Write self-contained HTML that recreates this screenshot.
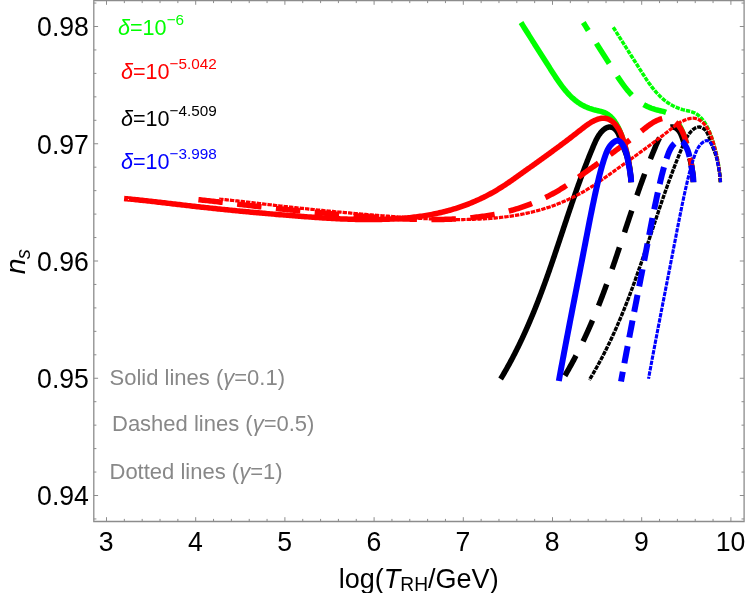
<!DOCTYPE html>
<html><head><meta charset="utf-8"><title>n_s vs log(T_RH/GeV)</title>
<style>
html,body{margin:0;padding:0;background:#fff;}
body{width:747px;height:593px;overflow:hidden;font-family:"Liberation Sans", sans-serif;}
svg{display:block;will-change:transform;}
text{font-family:"Liberation Sans", sans-serif;}
</style></head><body>
<svg width="747" height="593" viewBox="0 0 747 593">
<g fill="none" stroke-linecap="butt" stroke-linejoin="round">
<path d="M631.10 182.20L631.02 180.69L630.92 179.18L630.81 177.68L630.69 176.17L630.54 174.67L630.39 173.18L630.21 171.69L630.03 170.20L629.83 168.71L629.61 167.22L629.38 165.74L629.14 164.26L628.88 162.79L628.61 161.31L628.33 159.84L628.03 158.37L627.72 156.91L627.39 155.44L627.06 153.98L626.71 152.52L626.35 151.07L625.97 149.61L625.59 148.16L625.19 146.71L624.78 145.27L624.36 143.82L623.93 142.38L623.49 140.94L623.03 139.50L622.56 138.07L622.07 136.64L621.56 135.22L621.02 133.81L620.46 132.41L619.88 131.02L619.26 129.64L618.61 128.28L617.93 126.93L617.22 125.59L616.46 124.27L615.66 122.98L614.83 121.71L613.94 120.48L613.02 119.29L612.04 118.16L611.02 117.08L609.94 116.07L608.81 115.14L607.63 114.29L606.39 113.53L605.10 112.87L603.74 112.30L602.34 111.83L600.90 111.41L599.43 111.05L597.94 110.71L596.44 110.37L594.94 110.02L593.46 109.64L592.00 109.21L590.55 108.74L589.12 108.23L587.72 107.68L586.33 107.09L584.97 106.45L583.63 105.78L582.32 105.08L581.03 104.33L579.77 103.55L578.54 102.73L577.33 101.88L576.15 101.00L574.99 100.08L573.86 99.13L572.74 98.16L571.65 97.16L570.58 96.13L569.53 95.07L568.50 93.99L567.48 92.89L566.49 91.77L565.51 90.63L564.55 89.47L563.60 88.29L562.67 87.10L561.75 85.89L560.84 84.67L559.95 83.43L559.06 82.18L558.19 80.93L557.32 79.66L556.47 78.39L555.62 77.11L554.78 75.83L553.95 74.55L553.12 73.26L552.30 71.97L551.48 70.68L550.66 69.40L549.85 68.11L549.04 66.83L548.23 65.56L547.42 64.29L546.61 63.02L545.81 61.75L545.00 60.48L544.20 59.22L543.40 57.96L542.60 56.70L541.80 55.45L541.00 54.19L540.20 52.94L539.40 51.69L538.60 50.43L537.81 49.18L537.01 47.93L536.21 46.68L535.42 45.42L534.62 44.17L533.83 42.91L533.03 41.66L532.23 40.40L531.44 39.14L530.64 37.88L529.84 36.62L529.04 35.35L528.24 34.08L527.44 32.81L526.64 31.54L525.84 30.26L525.04 28.97L524.23 27.69L523.43 26.40L522.62 25.10L521.81 23.80L521.00 22.50" stroke="#00ff00" stroke-width="5.5"/>
<path d="M693.40 182.20L693.32 180.69L693.22 179.18L693.11 177.68L692.99 176.17L692.84 174.67L692.69 173.18L692.51 171.69L692.33 170.20L692.13 168.71L691.91 167.22L691.68 165.74L691.44 164.26L691.18 162.79L690.91 161.31L690.63 159.84L690.33 158.37L690.02 156.91L689.69 155.44L689.36 153.98L689.01 152.52L688.65 151.07L688.27 149.61L687.89 148.16L687.49 146.71L687.08 145.27L686.66 143.82L686.23 142.38L685.79 140.94L685.33 139.50L684.86 138.07L684.37 136.64L683.86 135.22L683.32 133.81L682.76 132.41L682.18 131.02L681.56 129.64L680.91 128.28L680.23 126.93L679.52 125.59L678.76 124.27L677.96 122.98L677.13 121.71L676.24 120.48L675.32 119.29L674.34 118.16L673.32 117.08L672.24 116.07L671.11 115.14L669.93 114.29L668.69 113.53L667.40 112.87L666.04 112.30L664.64 111.83L663.20 111.41L661.73 111.05L660.24 110.71L658.74 110.37L657.24 110.02L655.76 109.64L654.30 109.21L652.85 108.74L651.42 108.23L650.02 107.68L648.63 107.09L647.27 106.45L645.93 105.78L644.62 105.08L643.33 104.33L642.07 103.55L640.84 102.73L639.63 101.88L638.45 101.00L637.29 100.08L636.16 99.13L635.04 98.16L633.95 97.16L632.88 96.13L631.83 95.07L630.80 93.99L629.78 92.89L628.79 91.77L627.81 90.63L626.85 89.47L625.90 88.29L624.97 87.10L624.05 85.89L623.14 84.67L622.25 83.43L621.36 82.18L620.49 80.93L619.62 79.66L618.77 78.39L617.92 77.11L617.08 75.83L616.25 74.55L615.42 73.26L614.60 71.97L613.78 70.68L612.96 69.40L612.15 68.11L611.34 66.83L610.53 65.56L609.72 64.29L608.91 63.02L608.11 61.75L607.30 60.48L606.50 59.22L605.70 57.96L604.90 56.70L604.10 55.45L603.30 54.19L602.50 52.94L601.70 51.69L600.90 50.43L600.11 49.18L599.31 47.93L598.51 46.68L597.72 45.42L596.92 44.17L596.13 42.91L595.33 41.66L594.53 40.40L593.74 39.14L592.94 37.88L592.14 36.62L591.34 35.35L590.54 34.08L589.74 32.81L588.94 31.54L588.14 30.26L587.34 28.97L586.53 27.69L585.73 26.40L584.92 25.10L584.11 23.80L583.30 22.50" stroke="#00ff00" stroke-width="5.5" stroke-dasharray="23.8 15.2" stroke-dashoffset="0.0"/>
<path d="M720.40 182.20L720.32 180.69L720.22 179.18L720.11 177.68L719.99 176.17L719.84 174.67L719.69 173.18L719.51 171.69L719.33 170.20L719.13 168.71L718.91 167.22L718.68 165.74L718.44 164.26L718.18 162.79L717.91 161.31L717.63 159.84L717.33 158.37L717.02 156.91L716.69 155.44L716.36 153.98L716.01 152.52L715.65 151.07L715.27 149.61L714.89 148.16L714.49 146.71L714.08 145.27L713.66 143.82L713.23 142.38L712.79 140.94L712.33 139.50L711.86 138.07L711.37 136.64L710.86 135.22L710.32 133.81L709.76 132.41L709.18 131.02L708.56 129.64L707.91 128.28L707.23 126.93L706.52 125.59L705.76 124.27L704.96 122.98L704.13 121.71L703.24 120.48L702.32 119.29L701.34 118.16L700.32 117.08L699.24 116.07L698.11 115.14L696.93 114.29L695.69 113.53L694.40 112.87L693.04 112.30L691.64 111.83L690.20 111.41L688.73 111.05L687.24 110.71L685.74 110.37L684.24 110.02L682.76 109.64L681.30 109.21L679.85 108.74L678.42 108.23L677.02 107.68L675.63 107.09L674.27 106.45L672.93 105.78L671.62 105.08L670.33 104.33L669.07 103.55L667.84 102.73L666.63 101.88L665.45 101.00L664.29 100.08L663.16 99.13L662.04 98.16L660.95 97.16L659.88 96.13L658.83 95.07L657.80 93.99L656.78 92.89L655.79 91.77L654.81 90.63L653.85 89.47L652.90 88.29L651.97 87.10L651.05 85.89L650.14 84.67L649.25 83.43L648.36 82.18L647.49 80.93L646.62 79.66L645.77 78.39L644.92 77.11L644.08 75.83L643.25 74.55L642.42 73.26L641.60 71.97L640.78 70.68L639.96 69.40L639.15 68.11L638.34 66.83L637.53 65.56L636.72 64.29L635.91 63.02L635.11 61.75L634.30 60.48L633.50 59.22L632.70 57.96L631.90 56.70L631.10 55.45L630.30 54.19L629.50 52.94L628.70 51.69L627.90 50.43L627.11 49.18L626.31 47.93L625.51 46.68L624.72 45.42L623.92 44.17L623.13 42.91L622.33 41.66L621.53 40.40L620.74 39.14L619.94 37.88L619.14 36.62L618.34 35.35L617.54 34.08L616.74 32.81L615.94 31.54L615.14 30.26L614.34 28.97L613.53 27.69L612.85 26.60" stroke="#00ff00" stroke-width="3.5" stroke-dasharray="4.4 1.0"/>
<path d="M631.10 182.20L630.97 180.74L630.84 179.26L630.71 177.77L630.56 176.27L630.40 174.77L630.23 173.26L630.05 171.75L629.85 170.24L629.63 168.72L629.39 167.22L629.13 165.71L628.85 164.22L628.55 162.73L628.22 161.25L627.86 159.79L627.48 158.34L627.06 156.91L626.61 155.50L626.13 154.10L625.63 152.72L625.10 151.35L624.57 149.97L624.01 148.60L623.46 147.22L622.90 145.84L622.35 144.43L621.81 143.01L621.28 141.56L620.78 140.09L620.27 138.60L619.74 137.12L619.18 135.65L618.57 134.23L617.88 132.87L617.09 131.58L616.20 130.39L615.17 129.31L614.03 128.40L612.77 127.70L611.43 127.24L610.04 127.05L608.65 127.12L607.28 127.47L605.95 128.06L604.67 128.87L603.46 129.83L602.30 130.92L601.22 132.10L600.22 133.32L599.30 134.57L598.45 135.84L597.66 137.15L596.92 138.47L596.23 139.81L595.57 141.17L594.94 142.54L594.34 143.91L593.75 145.29L593.16 146.68L592.58 148.06L592.00 149.45L591.42 150.84L590.85 152.23L590.28 153.62L589.72 155.01L589.15 156.41L588.60 157.80L588.04 159.20L587.49 160.60L586.94 162.00L586.39 163.40L585.85 164.80L585.31 166.20L584.77 167.60L584.23 169.01L583.70 170.41L583.17 171.82L582.64 173.23L582.12 174.63L581.59 176.04L581.07 177.45L580.55 178.87L580.04 180.28L579.52 181.69L579.01 183.10L578.50 184.52L578.00 185.94L577.49 187.35L576.99 188.77L576.48 190.19L575.98 191.61L575.49 193.02L574.99 194.44L574.49 195.86L574.00 197.29L573.51 198.71L573.02 200.13L572.53 201.55L572.04 202.98L571.55 204.40L571.07 205.82L570.58 207.25L570.10 208.68L569.61 210.10L569.13 211.53L568.65 212.95L568.17 214.38L567.69 215.81L567.21 217.24L566.74 218.66L566.26 220.09L565.78 221.52L565.30 222.95L564.83 224.38L564.35 225.80L563.88 227.23L563.40 228.66L562.93 230.09L562.45 231.52L561.98 232.95L561.50 234.38L561.03 235.81L560.55 237.24L560.08 238.67L559.60 240.10L559.12 241.53L558.65 242.95L558.17 244.38L557.69 245.81L557.21 247.24L556.73 248.67L556.26 250.10L555.77 251.52L555.29 252.95L554.81 254.38L554.33 255.81L553.84 257.23L553.36 258.66L552.87 260.08L552.39 261.51L551.90 262.93L551.41 264.36L550.92 265.78L550.42 267.21L549.93 268.63L549.44 270.05L548.94 271.47L548.44 272.89L547.94 274.31L547.44 275.73L546.93 277.15L546.43 278.57L545.92 279.99L545.41 281.41L544.90 282.82L544.38 284.24L543.87 285.65L543.35 287.07L542.83 288.48L542.30 289.89L541.78 291.30L541.25 292.71L540.72 294.12L540.18 295.53L539.65 296.94L539.11 298.35L538.57 299.75L538.02 301.16L537.48 302.56L536.93 303.96L536.37 305.36L535.82 306.76L535.26 308.16L534.70 309.56L534.13 310.95L533.56 312.35L532.99 313.74L532.42 315.13L531.84 316.52L531.26 317.91L530.67 319.30L530.08 320.69L529.49 322.07L528.90 323.45L528.30 324.83L527.70 326.21L527.09 327.59L526.48 328.97L525.87 330.34L525.25 331.72L524.63 333.09L524.00 334.46L523.38 335.82L522.74 337.19L522.11 338.55L521.47 339.92L520.82 341.27L520.17 342.63L519.52 343.99L518.86 345.34L518.20 346.69L517.54 348.04L516.87 349.39L516.19 350.74L515.52 352.08L514.83 353.42L514.15 354.76L513.45 356.09L512.76 357.43L512.06 358.76L511.35 360.09L510.64 361.41L509.93 362.74L509.21 364.06L508.48 365.38L507.75 366.70L507.02 368.01L506.28 369.32L505.54 370.63L504.79 371.94L504.03 373.24L503.27 374.54L502.51 375.84L501.74 377.13L500.97 378.42L500.62 379.00" stroke="#000000" stroke-width="5.5"/>
<path d="M693.40 182.20L693.27 180.74L693.14 179.26L693.01 177.77L692.86 176.27L692.70 174.77L692.53 173.26L692.35 171.75L692.15 170.24L691.93 168.72L691.69 167.22L691.43 165.71L691.15 164.22L690.85 162.73L690.52 161.25L690.16 159.79L689.78 158.34L689.36 156.91L688.91 155.50L688.43 154.10L687.93 152.72L687.40 151.35L686.87 149.97L686.31 148.60L685.76 147.22L685.20 145.84L684.65 144.43L684.11 143.01L683.58 141.56L683.08 140.09L682.57 138.60L682.04 137.12L681.48 135.65L680.87 134.23L680.18 132.87L679.39 131.58L678.50 130.39L677.47 129.31L676.33 128.40L675.07 127.70L673.73 127.24L672.34 127.05L670.95 127.12L669.58 127.47L668.25 128.06L666.97 128.87L665.76 129.83L664.60 130.92L663.52 132.10L662.52 133.32L661.60 134.57L660.75 135.84L659.96 137.15L659.22 138.47L658.53 139.81L657.87 141.17L657.24 142.54L656.64 143.91L656.05 145.29L655.46 146.68L654.88 148.06L654.30 149.45L653.72 150.84L653.15 152.23L652.58 153.62L652.02 155.01L651.45 156.41L650.90 157.80L650.34 159.20L649.79 160.60L649.24 162.00L648.69 163.40L648.15 164.80L647.61 166.20L647.07 167.60L646.53 169.01L646.00 170.41L645.47 171.82L644.94 173.23L644.42 174.63L643.89 176.04L643.37 177.45L642.85 178.87L642.34 180.28L641.82 181.69L641.31 183.10L640.80 184.52L640.30 185.94L639.79 187.35L639.29 188.77L638.78 190.19L638.28 191.61L637.79 193.02L637.29 194.44L636.79 195.86L636.30 197.29L635.81 198.71L635.32 200.13L634.83 201.55L634.34 202.98L633.85 204.40L633.37 205.82L632.88 207.25L632.40 208.68L631.91 210.10L631.43 211.53L630.95 212.95L630.47 214.38L629.99 215.81L629.51 217.24L629.04 218.66L628.56 220.09L628.08 221.52L627.60 222.95L627.13 224.38L626.65 225.80L626.18 227.23L625.70 228.66L625.23 230.09L624.75 231.52L624.28 232.95L623.80 234.38L623.33 235.81L622.85 237.24L622.38 238.67L621.90 240.10L621.42 241.53L620.95 242.95L620.47 244.38L619.99 245.81L619.51 247.24L619.03 248.67L618.56 250.10L618.07 251.52L617.59 252.95L617.11 254.38L616.63 255.81L616.14 257.23L615.66 258.66L615.17 260.08L614.69 261.51L614.20 262.93L613.71 264.36L613.22 265.78L612.72 267.21L612.23 268.63L611.74 270.05L611.24 271.47L610.74 272.89L610.24 274.31L609.74 275.73L609.23 277.15L608.73 278.57L608.22 279.99L607.71 281.41L607.20 282.82L606.68 284.24L606.17 285.65L605.65 287.07L605.13 288.48L604.60 289.89L604.08 291.30L603.55 292.71L603.02 294.12L602.48 295.53L601.95 296.94L601.41 298.35L600.87 299.75L600.32 301.16L599.78 302.56L599.23 303.96L598.67 305.36L598.12 306.76L597.56 308.16L597.00 309.56L596.43 310.95L595.86 312.35L595.29 313.74L594.72 315.13L594.14 316.52L593.56 317.91L592.97 319.30L592.38 320.69L591.79 322.07L591.20 323.45L590.60 324.83L590.00 326.21L589.39 327.59L588.78 328.97L588.17 330.34L587.55 331.72L586.93 333.09L586.30 334.46L585.68 335.82L585.04 337.19L584.41 338.55L583.77 339.92L583.12 341.27L582.47 342.63L581.82 343.99L581.16 345.34L580.50 346.69L579.84 348.04L579.17 349.39L578.49 350.74L577.82 352.08L577.13 353.42L576.45 354.76L575.75 356.09L575.06 357.43L574.36 358.76L573.65 360.09L572.94 361.41L572.23 362.74L571.51 364.06L570.78 365.38L570.05 366.70L569.32 368.01L568.58 369.32L567.84 370.63L567.09 371.94L566.33 373.24L565.57 374.54L564.81 375.84L564.04 377.13L563.82 377.50" stroke="#000000" stroke-width="5.5" stroke-dasharray="23.0 15.9" stroke-dashoffset="-1.4"/>
<path d="M720.40 182.20L720.27 180.74L720.14 179.26L720.01 177.77L719.86 176.27L719.70 174.77L719.53 173.26L719.35 171.75L719.15 170.24L718.93 168.72L718.69 167.22L718.43 165.71L718.15 164.22L717.85 162.73L717.52 161.25L717.16 159.79L716.78 158.34L716.36 156.91L715.91 155.50L715.43 154.10L714.93 152.72L714.40 151.35L713.87 149.97L713.31 148.60L712.76 147.22L712.20 145.84L711.65 144.43L711.11 143.01L710.58 141.56L710.08 140.09L709.57 138.60L709.04 137.12L708.48 135.65L707.87 134.23L707.18 132.87L706.39 131.58L705.50 130.39L704.47 129.31L703.33 128.40L702.07 127.70L700.73 127.24L699.34 127.05L697.95 127.12L696.58 127.47L695.25 128.06L693.97 128.87L692.76 129.83L691.60 130.92L690.52 132.10L689.52 133.32L688.60 134.57L687.75 135.84L686.96 137.15L686.22 138.47L685.53 139.81L684.87 141.17L684.24 142.54L683.64 143.91L683.05 145.29L682.46 146.68L681.88 148.06L681.30 149.45L680.72 150.84L680.15 152.23L679.58 153.62L679.02 155.01L678.45 156.41L677.90 157.80L677.34 159.20L676.79 160.60L676.24 162.00L675.69 163.40L675.15 164.80L674.61 166.20L674.07 167.60L673.53 169.01L673.00 170.41L672.47 171.82L671.94 173.23L671.42 174.63L670.89 176.04L670.37 177.45L669.85 178.87L669.34 180.28L668.82 181.69L668.31 183.10L667.80 184.52L667.30 185.94L666.79 187.35L666.29 188.77L665.78 190.19L665.28 191.61L664.79 193.02L664.29 194.44L663.79 195.86L663.30 197.29L662.81 198.71L662.32 200.13L661.83 201.55L661.34 202.98L660.85 204.40L660.37 205.82L659.88 207.25L659.40 208.68L658.91 210.10L658.43 211.53L657.95 212.95L657.47 214.38L656.99 215.81L656.51 217.24L656.04 218.66L655.56 220.09L655.08 221.52L654.60 222.95L654.13 224.38L653.65 225.80L653.18 227.23L652.70 228.66L652.23 230.09L651.75 231.52L651.28 232.95L650.80 234.38L650.33 235.81L649.85 237.24L649.38 238.67L648.90 240.10L648.42 241.53L647.95 242.95L647.47 244.38L646.99 245.81L646.51 247.24L646.03 248.67L645.56 250.10L645.07 251.52L644.59 252.95L644.11 254.38L643.63 255.81L643.14 257.23L642.66 258.66L642.17 260.08L641.69 261.51L641.20 262.93L640.71 264.36L640.22 265.78L639.72 267.21L639.23 268.63L638.74 270.05L638.24 271.47L637.74 272.89L637.24 274.31L636.74 275.73L636.23 277.15L635.73 278.57L635.22 279.99L634.71 281.41L634.20 282.82L633.68 284.24L633.17 285.65L632.65 287.07L632.13 288.48L631.60 289.89L631.08 291.30L630.55 292.71L630.02 294.12L629.48 295.53L628.95 296.94L628.41 298.35L627.87 299.75L627.32 301.16L626.78 302.56L626.23 303.96L625.67 305.36L625.12 306.76L624.56 308.16L624.00 309.56L623.43 310.95L622.86 312.35L622.29 313.74L621.72 315.13L621.14 316.52L620.56 317.91L619.97 319.30L619.38 320.69L618.79 322.07L618.20 323.45L617.60 324.83L617.00 326.21L616.39 327.59L615.78 328.97L615.17 330.34L614.55 331.72L613.93 333.09L613.30 334.46L612.68 335.82L612.04 337.19L611.41 338.55L610.77 339.92L610.12 341.27L609.47 342.63L608.82 343.99L608.16 345.34L607.50 346.69L606.84 348.04L606.17 349.39L605.49 350.74L604.82 352.08L604.13 353.42L603.45 354.76L602.75 356.09L602.06 357.43L601.36 358.76L600.65 360.09L599.94 361.41L599.23 362.74L598.51 364.06L597.78 365.38L597.05 366.70L596.32 368.01L595.58 369.32L594.84 370.63L594.09 371.94L593.33 373.24L592.57 374.54L591.81 375.84L591.04 377.13L590.27 378.42L589.49 379.71L589.31 380.00" stroke="#000000" stroke-width="3.4" stroke-dasharray="4.4 1.0"/>
<path d="M631.10 182.20L631.01 180.68L630.90 179.16L630.78 177.65L630.65 176.14L630.51 174.65L630.35 173.15L630.17 171.66L629.99 170.18L629.79 168.69L629.58 167.22L629.35 165.74L629.12 164.27L628.87 162.81L628.60 161.34L628.32 159.88L628.03 158.42L627.73 156.96L627.42 155.51L627.09 154.05L626.74 152.60L626.39 151.15L626.02 149.70L625.64 148.25L625.25 146.80L624.84 145.35L624.42 143.89L623.99 142.44L623.54 140.99L623.08 139.54L622.60 138.09L622.09 136.65L621.55 135.22L620.97 133.81L620.35 132.41L619.69 131.04L618.97 129.69L618.19 128.37L617.35 127.09L616.45 125.84L615.49 124.65L614.46 123.52L613.38 122.47L612.25 121.50L611.07 120.64L609.84 119.88L608.56 119.25L607.25 118.75L605.89 118.41L604.50 118.22L603.08 118.19L601.64 118.32L600.18 118.58L598.73 118.95L597.29 119.42L595.88 119.96L594.50 120.57L593.14 121.23L591.82 121.94L590.52 122.70L589.24 123.51L587.98 124.34L586.74 125.21L585.51 126.10L584.30 127.02L583.09 127.95L581.89 128.89L580.69 129.83L579.50 130.77L578.30 131.71L577.10 132.65L575.91 133.58L574.71 134.51L573.51 135.44L572.31 136.36L571.12 137.28L569.92 138.20L568.72 139.12L567.52 140.03L566.32 140.94L565.11 141.84L563.91 142.75L562.71 143.65L561.51 144.55L560.30 145.44L559.10 146.34L557.90 147.23L556.69 148.12L555.48 149.01L554.28 149.89L553.07 150.78L551.86 151.66L550.66 152.54L549.45 153.42L548.24 154.30L547.03 155.18L545.82 156.06L544.61 156.93L543.40 157.80L542.19 158.68L540.97 159.55L539.76 160.42L538.55 161.29L537.33 162.16L536.12 163.03L534.90 163.90L533.69 164.77L532.47 165.64L531.25 166.51L530.03 167.38L528.82 168.24L527.60 169.11L526.38 169.98L525.16 170.85L523.94 171.72L522.71 172.59L521.49 173.46L520.27 174.33L519.04 175.20L517.82 176.08L516.59 176.95L515.36 177.82L514.13 178.69L512.90 179.55L511.67 180.42L510.43 181.27L509.19 182.13L507.94 182.98L506.69 183.82L505.44 184.66L504.18 185.49L502.92 186.31L501.65 187.12L500.38 187.92L499.09 188.71L497.81 189.50L496.52 190.27L495.22 191.03L493.91 191.78L492.60 192.53L491.29 193.26L489.96 193.98L488.64 194.69L487.31 195.39L485.97 196.08L484.63 196.76L483.28 197.42L481.92 198.08L480.57 198.73L479.20 199.37L477.84 199.99L476.47 200.61L475.09 201.21L473.71 201.81L472.32 202.39L470.94 202.96L469.54 203.52L468.15 204.08L466.74 204.62L465.34 205.14L463.93 205.66L462.52 206.17L461.10 206.67L459.68 207.15L458.26 207.62L456.84 208.09L455.41 208.54L453.98 208.98L452.54 209.41L451.10 209.83L449.66 210.24L448.22 210.63L446.77 211.02L445.32 211.40L443.87 211.76L442.42 212.12L440.96 212.46L439.50 212.80L438.04 213.13L436.58 213.44L435.11 213.75L433.64 214.05L432.17 214.33L430.70 214.61L429.23 214.88L427.75 215.14L426.27 215.39L424.79 215.64L423.31 215.87L421.83 216.10L420.34 216.31L418.85 216.52L417.37 216.72L415.88 216.92L414.39 217.10L412.89 217.28L411.40 217.45L409.90 217.61L408.41 217.76L406.91 217.91L405.41 218.05L403.91 218.18L402.41 218.31L400.91 218.43L399.41 218.54L397.91 218.64L396.41 218.74L394.90 218.84L393.40 218.92L391.90 219.00L390.39 219.08L388.89 219.15L387.38 219.21L385.87 219.27L384.37 219.32L382.86 219.36L381.36 219.40L379.85 219.44L378.34 219.47L376.84 219.50L375.33 219.52L373.83 219.53L372.32 219.54L370.82 219.55L369.31 219.55L367.81 219.55L366.31 219.55L364.80 219.54L363.30 219.52L361.80 219.50L360.30 219.48L358.80 219.46L357.30 219.43L355.79 219.39L354.29 219.36L352.79 219.32L351.29 219.27L349.79 219.23L348.29 219.18L346.80 219.12L345.30 219.07L343.80 219.01L342.30 218.94L340.80 218.88L339.30 218.81L337.81 218.74L336.31 218.67L334.81 218.59L333.31 218.51L331.82 218.43L330.32 218.35L328.82 218.26L327.33 218.17L325.83 218.08L324.33 217.99L322.84 217.90L321.34 217.80L319.84 217.70L318.35 217.60L316.85 217.50L315.35 217.40L313.86 217.30L312.36 217.19L310.87 217.08L309.37 216.98L307.87 216.87L306.38 216.76L304.88 216.64L303.39 216.53L301.89 216.42L300.39 216.31L298.90 216.19L297.40 216.07L295.91 215.96L294.41 215.84L292.91 215.72L291.42 215.61L289.92 215.49L288.42 215.37L286.93 215.25L285.43 215.13L283.94 215.00L282.44 214.88L280.94 214.76L279.45 214.64L277.95 214.51L276.45 214.39L274.96 214.26L273.46 214.13L271.96 214.01L270.47 213.88L268.97 213.75L267.47 213.62L265.98 213.49L264.48 213.36L262.98 213.22L261.49 213.09L259.99 212.96L258.49 212.82L257.00 212.69L255.50 212.55L254.00 212.42L252.51 212.28L251.01 212.14L249.51 212.00L248.02 211.86L246.52 211.72L245.02 211.58L243.53 211.44L242.03 211.30L240.54 211.16L239.04 211.01L237.54 210.87L236.05 210.72L234.55 210.58L233.06 210.43L231.56 210.28L230.07 210.13L228.57 209.98L227.08 209.83L225.58 209.68L224.09 209.53L222.59 209.38L221.10 209.22L219.60 209.07L218.11 208.91L216.61 208.76L215.12 208.60L213.62 208.44L212.13 208.29L210.63 208.13L209.14 207.97L207.65 207.81L206.15 207.64L204.66 207.48L203.17 207.32L201.67 207.16L200.18 206.99L198.69 206.83L197.19 206.66L195.70 206.49L194.21 206.32L192.71 206.15L191.22 205.98L189.73 205.81L188.24 205.64L186.75 205.47L185.26 205.30L183.76 205.12L182.27 204.95L180.78 204.78L179.29 204.60L177.80 204.42L176.31 204.25L174.82 204.07L173.33 203.90L171.84 203.72L170.34 203.55L168.85 203.37L167.36 203.19L165.87 203.02L164.38 202.84L162.89 202.67L161.40 202.50L159.91 202.32L158.42 202.15L156.93 201.98L155.44 201.81L153.95 201.63L152.46 201.46L150.96 201.30L149.47 201.13L147.98 200.96L146.49 200.80L145.00 200.63L143.51 200.47L142.02 200.31L140.52 200.15L139.03 199.99L137.54 199.83L136.05 199.67L134.55 199.52L133.06 199.37L131.57 199.22L130.08 199.07L128.58 198.92L127.09 198.78L125.59 198.64L124.10 198.50" stroke="#ff0000" stroke-width="5.5"/>
<path d="M693.40 182.20L693.31 180.68L693.20 179.16L693.08 177.65L692.95 176.14L692.81 174.65L692.65 173.15L692.47 171.66L692.29 170.18L692.09 168.69L691.88 167.22L691.65 165.74L691.42 164.27L691.17 162.81L690.90 161.34L690.62 159.88L690.33 158.42L690.03 156.96L689.72 155.51L689.39 154.05L689.04 152.60L688.69 151.15L688.32 149.70L687.94 148.25L687.55 146.80L687.14 145.35L686.72 143.89L686.29 142.44L685.84 140.99L685.38 139.54L684.90 138.09L684.39 136.65L683.85 135.22L683.27 133.81L682.65 132.41L681.99 131.04L681.27 129.69L680.49 128.37L679.65 127.09L678.75 125.84L677.79 124.65L676.76 123.52L675.68 122.47L674.55 121.50L673.37 120.64L672.14 119.88L670.86 119.25L669.55 118.75L668.19 118.41L666.80 118.22L665.38 118.19L663.94 118.32L662.48 118.58L661.03 118.95L659.59 119.42L658.18 119.96L656.80 120.57L655.44 121.23L654.12 121.94L652.82 122.70L651.54 123.51L650.28 124.34L649.04 125.21L647.81 126.10L646.60 127.02L645.39 127.95L644.19 128.89L642.99 129.83L641.80 130.77L640.60 131.71L639.40 132.65L638.21 133.58L637.01 134.51L635.81 135.44L634.61 136.36L633.42 137.28L632.22 138.20L631.02 139.12L629.82 140.03L628.62 140.94L627.41 141.84L626.21 142.75L625.01 143.65L623.81 144.55L622.60 145.44L621.40 146.34L620.20 147.23L618.99 148.12L617.78 149.01L616.58 149.89L615.37 150.78L614.16 151.66L612.96 152.54L611.75 153.42L610.54 154.30L609.33 155.18L608.12 156.06L606.91 156.93L605.70 157.80L604.49 158.68L603.27 159.55L602.06 160.42L600.85 161.29L599.63 162.16L598.42 163.03L597.20 163.90L595.99 164.77L594.77 165.64L593.55 166.51L592.33 167.38L591.12 168.24L589.90 169.11L588.68 169.98L587.46 170.85L586.24 171.72L585.01 172.59L583.79 173.46L582.57 174.33L581.34 175.20L580.12 176.08L578.89 176.95L577.66 177.82L576.43 178.69L575.20 179.55L573.97 180.42L572.73 181.27L571.49 182.13L570.24 182.98L568.99 183.82L567.74 184.66L566.48 185.49L565.22 186.31L563.95 187.12L562.68 187.92L561.39 188.71L560.11 189.50L558.82 190.27L557.52 191.03L556.21 191.78L554.90 192.53L553.59 193.26L552.26 193.98L550.94 194.69L549.61 195.39L548.27 196.08L546.93 196.76L545.58 197.42L544.22 198.08L542.87 198.73L541.50 199.37L540.14 199.99L538.77 200.61L537.39 201.21L536.01 201.81L534.62 202.39L533.24 202.96L531.84 203.52L530.45 204.08L529.04 204.62L527.64 205.14L526.23 205.66L524.82 206.17L523.40 206.67L521.98 207.15L520.56 207.62L519.14 208.09L517.71 208.54L516.28 208.98L514.84 209.41L513.40 209.83L511.96 210.24L510.52 210.63L509.07 211.02L507.62 211.40L506.17 211.76L504.72 212.12L503.26 212.46L501.80 212.80L500.34 213.13L498.88 213.44L497.41 213.75L495.94 214.05L494.47 214.33L493.00 214.61L491.53 214.88L490.05 215.14L488.57 215.39L487.09 215.64L485.61 215.87L484.13 216.10L482.64 216.31L481.15 216.52L479.67 216.72L478.18 216.92L476.69 217.10L475.19 217.28L473.70 217.45L472.20 217.61L470.71 217.76L469.21 217.91L467.71 218.05L466.21 218.18L464.71 218.31L463.21 218.43L461.71 218.54L460.21 218.64L458.71 218.74L457.20 218.84L455.70 218.92L454.20 219.00L452.69 219.08L451.19 219.15L449.68 219.21L448.17 219.27L446.67 219.32L445.16 219.36L443.66 219.40L442.15 219.44L440.64 219.47L439.14 219.50L437.63 219.52L436.13 219.53L434.62 219.54L433.12 219.55L431.61 219.55L430.11 219.55L428.61 219.55L427.10 219.54L425.60 219.52L424.10 219.50L422.60 219.48L421.10 219.46L419.60 219.43L418.09 219.39L416.59 219.36L415.09 219.32L413.59 219.27L412.09 219.23L410.59 219.18L409.10 219.12L407.60 219.07L406.10 219.01L404.60 218.94L403.10 218.88L401.60 218.81L400.11 218.74L398.61 218.67L397.11 218.59L395.61 218.51L394.12 218.43L392.62 218.35L391.12 218.26L389.63 218.17L388.13 218.08L386.63 217.99L385.14 217.90L383.64 217.80L382.14 217.70L380.65 217.60L379.15 217.50L377.65 217.40L376.16 217.30L374.66 217.19L373.17 217.08L371.67 216.98L370.17 216.87L368.68 216.76L367.18 216.64L365.69 216.53L364.19 216.42L362.69 216.31L361.20 216.19L359.70 216.07L358.21 215.96L356.71 215.84L355.21 215.72L353.72 215.61L352.22 215.49L350.72 215.37L349.23 215.25L347.73 215.13L346.24 215.00L344.74 214.88L343.24 214.76L341.75 214.64L340.25 214.51L338.75 214.39L337.26 214.26L335.76 214.13L334.26 214.01L332.77 213.88L331.27 213.75L329.77 213.62L328.28 213.49L326.78 213.36L325.28 213.22L323.79 213.09L322.29 212.96L320.79 212.82L319.30 212.69L317.80 212.55L316.30 212.42L314.81 212.28L313.31 212.14L311.81 212.00L310.32 211.86L308.82 211.72L307.32 211.58L305.83 211.44L304.33 211.30L302.84 211.16L301.34 211.01L299.84 210.87L298.35 210.72L296.85 210.58L295.36 210.43L293.86 210.28L292.37 210.13L290.87 209.98L289.38 209.83L287.88 209.68L286.39 209.53L284.89 209.38L283.40 209.22L281.90 209.07L280.41 208.91L278.91 208.76L277.42 208.60L275.92 208.44L274.43 208.29L272.93 208.13L271.44 207.97L269.95 207.81L268.45 207.64L266.96 207.48L265.47 207.32L263.97 207.16L262.48 206.99L260.99 206.83L259.49 206.66L258.00 206.49L256.51 206.32L255.01 206.15L253.52 205.98L252.03 205.81L250.54 205.64L249.05 205.47L247.56 205.30L246.06 205.12L244.57 204.95L243.08 204.78L241.59 204.60L240.10 204.42L238.61 204.25L237.12 204.07L235.63 203.90L234.14 203.72L232.64 203.55L231.15 203.37L229.66 203.19L228.17 203.02L226.68 202.84L225.19 202.67L223.70 202.50L222.21 202.32L220.72 202.15L219.23 201.98L217.74 201.81L216.25 201.63L214.76 201.46L213.26 201.30L211.77 201.13L210.28 200.96L208.79 200.80L207.30 200.63L205.81 200.47L204.32 200.31L202.82 200.15L201.33 199.99L199.84 199.83L198.35 199.67L198.20 199.66" stroke="#ff0000" stroke-width="5.5" stroke-dasharray="24.5 14.5" stroke-dashoffset="0.0"/>
<path d="M720.40 182.20L720.31 180.68L720.20 179.16L720.08 177.65L719.95 176.14L719.81 174.65L719.65 173.15L719.47 171.66L719.29 170.18L719.09 168.69L718.88 167.22L718.65 165.74L718.42 164.27L718.17 162.81L717.90 161.34L717.62 159.88L717.33 158.42L717.03 156.96L716.72 155.51L716.39 154.05L716.04 152.60L715.69 151.15L715.32 149.70L714.94 148.25L714.55 146.80L714.14 145.35L713.72 143.89L713.29 142.44L712.84 140.99L712.38 139.54L711.90 138.09L711.39 136.65L710.85 135.22L710.27 133.81L709.65 132.41L708.99 131.04L708.27 129.69L707.49 128.37L706.65 127.09L705.75 125.84L704.79 124.65L703.76 123.52L702.68 122.47L701.55 121.50L700.37 120.64L699.14 119.88L697.86 119.25L696.55 118.75L695.19 118.41L693.80 118.22L692.38 118.19L690.94 118.32L689.48 118.58L688.03 118.95L686.59 119.42L685.18 119.96L683.80 120.57L682.44 121.23L681.12 121.94L679.82 122.70L678.54 123.51L677.28 124.34L676.04 125.21L674.81 126.10L673.60 127.02L672.39 127.95L671.19 128.89L669.99 129.83L668.80 130.77L667.60 131.71L666.40 132.65L665.21 133.58L664.01 134.51L662.81 135.44L661.61 136.36L660.42 137.28L659.22 138.20L658.02 139.12L656.82 140.03L655.62 140.94L654.41 141.84L653.21 142.75L652.01 143.65L650.81 144.55L649.60 145.44L648.40 146.34L647.20 147.23L645.99 148.12L644.78 149.01L643.58 149.89L642.37 150.78L641.16 151.66L639.96 152.54L638.75 153.42L637.54 154.30L636.33 155.18L635.12 156.06L633.91 156.93L632.70 157.80L631.49 158.68L630.27 159.55L629.06 160.42L627.85 161.29L626.63 162.16L625.42 163.03L624.20 163.90L622.99 164.77L621.77 165.64L620.55 166.51L619.33 167.38L618.12 168.24L616.90 169.11L615.68 169.98L614.46 170.85L613.24 171.72L612.01 172.59L610.79 173.46L609.57 174.33L608.34 175.20L607.12 176.08L605.89 176.95L604.66 177.82L603.43 178.69L602.20 179.55L600.97 180.42L599.73 181.27L598.49 182.13L597.24 182.98L595.99 183.82L594.74 184.66L593.48 185.49L592.22 186.31L590.95 187.12L589.68 187.92L588.39 188.71L587.11 189.50L585.82 190.27L584.52 191.03L583.21 191.78L581.90 192.53L580.59 193.26L579.26 193.98L577.94 194.69L576.61 195.39L575.27 196.08L573.93 196.76L572.58 197.42L571.22 198.08L569.87 198.73L568.50 199.37L567.14 199.99L565.77 200.61L564.39 201.21L563.01 201.81L561.62 202.39L560.24 202.96L558.84 203.52L557.45 204.08L556.04 204.62L554.64 205.14L553.23 205.66L551.82 206.17L550.40 206.67L548.98 207.15L547.56 207.62L546.14 208.09L544.71 208.54L543.28 208.98L541.84 209.41L540.40 209.83L538.96 210.24L537.52 210.63L536.07 211.02L534.62 211.40L533.17 211.76L531.72 212.12L530.26 212.46L528.80 212.80L527.34 213.13L525.88 213.44L524.41 213.75L522.94 214.05L521.47 214.33L520.00 214.61L518.53 214.88L517.05 215.14L515.57 215.39L514.09 215.64L512.61 215.87L511.13 216.10L509.64 216.31L508.15 216.52L506.67 216.72L505.18 216.92L503.69 217.10L502.19 217.28L500.70 217.45L499.20 217.61L497.71 217.76L496.21 217.91L494.71 218.05L493.21 218.18L491.71 218.31L490.21 218.43L488.71 218.54L487.21 218.64L485.71 218.74L484.20 218.84L482.70 218.92L481.20 219.00L479.69 219.08L478.19 219.15L476.68 219.21L475.17 219.27L473.67 219.32L472.16 219.36L470.66 219.40L469.15 219.44L467.64 219.47L466.14 219.50L464.63 219.52L463.13 219.53L461.62 219.54L460.12 219.55L458.61 219.55L457.11 219.55L455.61 219.55L454.10 219.54L452.60 219.52L451.10 219.50L449.60 219.48L448.10 219.46L446.60 219.43L445.09 219.39L443.59 219.36L442.09 219.32L440.59 219.27L439.09 219.23L437.59 219.18L436.10 219.12L434.60 219.07L433.10 219.01L431.60 218.94L430.10 218.88L428.60 218.81L427.11 218.74L425.61 218.67L424.11 218.59L422.61 218.51L421.12 218.43L419.62 218.35L418.12 218.26L416.63 218.17L415.13 218.08L413.63 217.99L412.14 217.90L410.64 217.80L409.14 217.70L407.65 217.60L406.15 217.50L404.65 217.40L403.16 217.30L401.66 217.19L400.17 217.08L398.67 216.98L397.17 216.87L395.68 216.76L394.18 216.64L392.69 216.53L391.19 216.42L389.69 216.31L388.20 216.19L386.70 216.07L385.21 215.96L383.71 215.84L382.21 215.72L380.72 215.61L379.22 215.49L377.72 215.37L376.23 215.25L374.73 215.13L373.24 215.00L371.74 214.88L370.24 214.76L368.75 214.64L367.25 214.51L365.75 214.39L364.26 214.26L362.76 214.13L361.26 214.01L359.77 213.88L358.27 213.75L356.77 213.62L355.28 213.49L353.78 213.36L352.28 213.22L350.79 213.09L349.29 212.96L347.79 212.82L346.30 212.69L344.80 212.55L343.30 212.42L341.81 212.28L340.31 212.14L338.81 212.00L337.32 211.86L335.82 211.72L334.32 211.58L332.83 211.44L331.33 211.30L329.84 211.16L328.34 211.01L326.84 210.87L325.35 210.72L323.85 210.58L322.36 210.43L320.86 210.28L319.37 210.13L317.87 209.98L316.38 209.83L314.88 209.68L313.39 209.53L311.89 209.38L310.40 209.22L308.90 209.07L307.41 208.91L305.91 208.76L304.42 208.60L302.92 208.44L301.43 208.29L299.93 208.13L298.44 207.97L296.95 207.81L295.45 207.64L293.96 207.48L292.47 207.32L290.97 207.16L289.48 206.99L287.99 206.83L286.49 206.66L285.00 206.49L283.51 206.32L282.01 206.15L280.52 205.98L279.03 205.81L277.54 205.64L276.05 205.47L274.56 205.30L273.06 205.12L271.57 204.95L270.08 204.78L268.59 204.60L267.10 204.42L265.61 204.25L264.12 204.07L262.63 203.90L261.14 203.72L259.64 203.55L258.15 203.37L256.66 203.19L255.17 203.02L253.68 202.84L252.19 202.67L250.70 202.50L249.21 202.32L247.72 202.15L246.23 201.98L244.74 201.81L243.25 201.63L241.76 201.46L240.26 201.30L238.77 201.13L237.28 200.96L235.79 200.80L234.30 200.63L232.81 200.47L231.32 200.31L229.82 200.15L228.33 199.99L226.84 199.83L225.35 199.67L223.85 199.52L222.36 199.37L220.87 199.22L219.38 199.07L218.40 198.98" stroke="#ff0000" stroke-width="3.2" stroke-dasharray="4.4 1.0"/>
<path d="M631.10 182.20L631.07 180.66L631.00 179.13L630.88 177.63L630.72 176.14L630.52 174.66L630.30 173.19L630.05 171.73L629.79 170.27L629.52 168.81L629.24 167.35L628.96 165.89L628.68 164.42L628.41 162.94L628.14 161.45L627.87 159.96L627.58 158.48L627.27 157.00L626.92 155.52L626.55 154.05L626.13 152.60L625.65 151.17L625.12 149.75L624.53 148.35L623.86 146.98L623.11 145.64L622.27 144.33L621.34 143.06L620.31 141.89L619.16 141.02L617.89 140.60L616.56 140.70L615.25 141.24L614.00 142.03L612.84 142.94L611.78 143.93L610.80 145.02L609.90 146.17L609.08 147.39L608.32 148.68L607.62 150.01L606.97 151.39L606.36 152.80L605.80 154.24L605.27 155.69L604.76 157.16L604.27 158.63L603.79 160.09L603.33 161.55L602.88 163.01L602.45 164.47L602.02 165.93L601.61 167.38L601.20 168.83L600.81 170.28L600.42 171.73L600.04 173.18L599.67 174.63L599.31 176.08L598.95 177.52L598.60 178.97L598.25 180.42L597.91 181.87L597.57 183.32L597.24 184.77L596.91 186.22L596.58 187.67L596.25 189.13L595.93 190.59L595.60 192.04L595.28 193.50L594.96 194.96L594.65 196.42L594.33 197.89L594.02 199.35L593.71 200.82L593.40 202.28L593.09 203.75L592.79 205.22L592.48 206.69L592.18 208.16L591.88 209.63L591.58 211.10L591.28 212.57L590.99 214.04L590.69 215.52L590.40 216.99L590.10 218.47L589.81 219.94L589.52 221.42L589.23 222.89L588.94 224.37L588.65 225.85L588.36 227.32L588.07 228.80L587.78 230.28L587.50 231.76L587.21 233.24L586.92 234.71L586.64 236.19L586.35 237.67L586.07 239.15L585.78 240.63L585.49 242.11L585.21 243.58L584.92 245.06L584.64 246.54L584.35 248.02L584.07 249.49L583.78 250.97L583.49 252.45L583.21 253.92L582.92 255.40L582.63 256.87L582.35 258.35L582.06 259.83L581.77 261.30L581.49 262.78L581.20 264.25L580.91 265.73L580.62 267.20L580.34 268.67L580.05 270.15L579.76 271.62L579.47 273.10L579.19 274.57L578.90 276.04L578.61 277.52L578.32 278.99L578.03 280.46L577.75 281.94L577.46 283.41L577.17 284.88L576.88 286.36L576.60 287.83L576.31 289.30L576.02 290.77L575.73 292.25L575.44 293.72L575.16 295.19L574.87 296.66L574.58 298.14L574.30 299.61L574.01 301.08L573.72 302.55L573.43 304.03L573.15 305.50L572.86 306.97L572.57 308.44L572.29 309.91L572.00 311.39L571.72 312.86L571.43 314.33L571.14 315.80L570.86 317.28L570.57 318.75L570.29 320.22L570.00 321.69L569.72 323.17L569.44 324.64L569.15 326.11L568.87 327.59L568.58 329.06L568.30 330.53L568.02 332.00L567.73 333.48L567.45 334.95L567.17 336.42L566.89 337.90L566.61 339.37L566.32 340.85L566.04 342.32L565.76 343.79L565.48 345.27L565.20 346.74L564.92 348.22L564.64 349.69L564.36 351.17L564.08 352.64L563.81 354.12L563.53 355.59L563.25 357.07L562.97 358.55L562.70 360.02L562.42 361.50L562.14 362.98L561.87 364.45L561.59 365.93L561.32 367.41L561.05 368.89L560.77 370.36L560.50 371.84L560.23 373.32L559.95 374.80L559.68 376.28L559.41 377.76L559.14 379.24L558.87 380.72L558.82 381.00" stroke="#0000ff" stroke-width="6.0"/>
<path d="M693.40 182.20L693.37 180.66L693.30 179.13L693.18 177.63L693.02 176.14L692.82 174.66L692.60 173.19L692.35 171.73L692.09 170.27L691.82 168.81L691.54 167.35L691.26 165.89L690.98 164.42L690.71 162.94L690.44 161.45L690.17 159.96L689.88 158.48L689.57 157.00L689.22 155.52L688.85 154.05L688.43 152.60L687.95 151.17L687.42 149.75L686.83 148.35L686.16 146.98L685.41 145.64L684.57 144.33L683.64 143.06L682.61 141.89L681.46 141.02L680.19 140.60L678.86 140.70L677.55 141.24L676.30 142.03L675.14 142.94L674.08 143.93L673.10 145.02L672.20 146.17L671.38 147.39L670.62 148.68L669.92 150.01L669.27 151.39L668.66 152.80L668.10 154.24L667.57 155.69L667.06 157.16L666.57 158.63L666.09 160.09L665.63 161.55L665.18 163.01L664.75 164.47L664.32 165.93L663.91 167.38L663.50 168.83L663.11 170.28L662.72 171.73L662.34 173.18L661.97 174.63L661.61 176.08L661.25 177.52L660.90 178.97L660.55 180.42L660.21 181.87L659.87 183.32L659.54 184.77L659.21 186.22L658.88 187.67L658.55 189.13L658.23 190.59L657.90 192.04L657.58 193.50L657.26 194.96L656.95 196.42L656.63 197.89L656.32 199.35L656.01 200.82L655.70 202.28L655.39 203.75L655.09 205.22L654.78 206.69L654.48 208.16L654.18 209.63L653.88 211.10L653.58 212.57L653.29 214.04L652.99 215.52L652.70 216.99L652.40 218.47L652.11 219.94L651.82 221.42L651.53 222.89L651.24 224.37L650.95 225.85L650.66 227.32L650.37 228.80L650.08 230.28L649.80 231.76L649.51 233.24L649.22 234.71L648.94 236.19L648.65 237.67L648.37 239.15L648.08 240.63L647.79 242.11L647.51 243.58L647.22 245.06L646.94 246.54L646.65 248.02L646.37 249.49L646.08 250.97L645.79 252.45L645.51 253.92L645.22 255.40L644.93 256.87L644.65 258.35L644.36 259.83L644.07 261.30L643.79 262.78L643.50 264.25L643.21 265.73L642.92 267.20L642.64 268.67L642.35 270.15L642.06 271.62L641.77 273.10L641.49 274.57L641.20 276.04L640.91 277.52L640.62 278.99L640.33 280.46L640.05 281.94L639.76 283.41L639.47 284.88L639.18 286.36L638.90 287.83L638.61 289.30L638.32 290.77L638.03 292.25L637.74 293.72L637.46 295.19L637.17 296.66L636.88 298.14L636.60 299.61L636.31 301.08L636.02 302.55L635.73 304.03L635.45 305.50L635.16 306.97L634.87 308.44L634.59 309.91L634.30 311.39L634.02 312.86L633.73 314.33L633.44 315.80L633.16 317.28L632.87 318.75L632.59 320.22L632.30 321.69L632.02 323.17L631.74 324.64L631.45 326.11L631.17 327.59L630.88 329.06L630.60 330.53L630.32 332.00L630.03 333.48L629.75 334.95L629.47 336.42L629.19 337.90L628.91 339.37L628.62 340.85L628.34 342.32L628.06 343.79L627.78 345.27L627.50 346.74L627.22 348.22L626.94 349.69L626.66 351.17L626.38 352.64L626.11 354.12L625.83 355.59L625.55 357.07L625.27 358.55L625.00 360.02L624.72 361.50L624.44 362.98L624.17 364.45L623.89 365.93L623.62 367.41L623.35 368.89L623.07 370.36L622.80 371.84L622.53 373.32L622.25 374.80L621.98 376.28L621.71 377.76L621.44 379.24L621.17 380.72L621.03 381.50" stroke="#0000ff" stroke-width="6.0" stroke-dasharray="17.4 8.7" stroke-dashoffset="0.5"/>
<path d="M720.40 182.20L720.37 180.66L720.30 179.13L720.18 177.63L720.02 176.14L719.82 174.66L719.60 173.19L719.35 171.73L719.09 170.27L718.82 168.81L718.54 167.35L718.26 165.89L717.98 164.42L717.71 162.94L717.44 161.45L717.17 159.96L716.88 158.48L716.57 157.00L716.22 155.52L715.85 154.05L715.43 152.60L714.95 151.17L714.42 149.75L713.83 148.35L713.16 146.98L712.41 145.64L711.57 144.33L710.64 143.06L709.61 141.89L708.46 141.02L707.19 140.60L705.86 140.70L704.55 141.24L703.30 142.03L702.14 142.94L701.08 143.93L700.10 145.02L699.20 146.17L698.38 147.39L697.62 148.68L696.92 150.01L696.27 151.39L695.66 152.80L695.10 154.24L694.57 155.69L694.06 157.16L693.57 158.63L693.09 160.09L692.63 161.55L692.18 163.01L691.75 164.47L691.32 165.93L690.91 167.38L690.50 168.83L690.11 170.28L689.72 171.73L689.34 173.18L688.97 174.63L688.61 176.08L688.25 177.52L687.90 178.97L687.55 180.42L687.21 181.87L686.87 183.32L686.54 184.77L686.21 186.22L685.88 187.67L685.55 189.13L685.23 190.59L684.90 192.04L684.58 193.50L684.26 194.96L683.95 196.42L683.63 197.89L683.32 199.35L683.01 200.82L682.70 202.28L682.39 203.75L682.09 205.22L681.78 206.69L681.48 208.16L681.18 209.63L680.88 211.10L680.58 212.57L680.29 214.04L679.99 215.52L679.70 216.99L679.40 218.47L679.11 219.94L678.82 221.42L678.53 222.89L678.24 224.37L677.95 225.85L677.66 227.32L677.37 228.80L677.08 230.28L676.80 231.76L676.51 233.24L676.22 234.71L675.94 236.19L675.65 237.67L675.37 239.15L675.08 240.63L674.79 242.11L674.51 243.58L674.22 245.06L673.94 246.54L673.65 248.02L673.37 249.49L673.08 250.97L672.79 252.45L672.51 253.92L672.22 255.40L671.93 256.87L671.65 258.35L671.36 259.83L671.07 261.30L670.79 262.78L670.50 264.25L670.21 265.73L669.92 267.20L669.64 268.67L669.35 270.15L669.06 271.62L668.77 273.10L668.49 274.57L668.20 276.04L667.91 277.52L667.62 278.99L667.33 280.46L667.05 281.94L666.76 283.41L666.47 284.88L666.18 286.36L665.90 287.83L665.61 289.30L665.32 290.77L665.03 292.25L664.74 293.72L664.46 295.19L664.17 296.66L663.88 298.14L663.60 299.61L663.31 301.08L663.02 302.55L662.73 304.03L662.45 305.50L662.16 306.97L661.87 308.44L661.59 309.91L661.30 311.39L661.02 312.86L660.73 314.33L660.44 315.80L660.16 317.28L659.87 318.75L659.59 320.22L659.30 321.69L659.02 323.17L658.74 324.64L658.45 326.11L658.17 327.59L657.88 329.06L657.60 330.53L657.32 332.00L657.03 333.48L656.75 334.95L656.47 336.42L656.19 337.90L655.91 339.37L655.62 340.85L655.34 342.32L655.06 343.79L654.78 345.27L654.50 346.74L654.22 348.22L653.94 349.69L653.66 351.17L653.38 352.64L653.11 354.12L652.83 355.59L652.55 357.07L652.27 358.55L652.00 360.02L651.72 361.50L651.44 362.98L651.17 364.45L650.89 365.93L650.62 367.41L650.35 368.89L650.07 370.36L649.80 371.84L649.53 373.32L649.25 374.80L648.98 376.28L648.71 377.76L648.52 378.80" stroke="#0000ff" stroke-width="3.1" stroke-dasharray="4.4 1.0"/>
<circle cx="128.4" cy="199.5" r="0.6" fill="#ffffff" stroke="none" opacity="0.85"/>
<circle cx="220.1" cy="199.3" r="0.5" fill="#ffffff" stroke="none" opacity="0.6"/>
</g>
<g fill="none" stroke="#8c8c8c" stroke-width="1.3">
<path d="M93.8 0.5H744.1V521.5H93.8Z"/>
<path d="M106.50 521.5v-4.3M106.50 0.5v4.3M124.34 521.5v-2.6M124.34 0.5v2.6M142.18 521.5v-2.6M142.18 0.5v2.6M160.02 521.5v-2.6M160.02 0.5v2.6M177.86 521.5v-2.6M177.86 0.5v2.6M195.70 521.5v-4.3M195.70 0.5v4.3M213.54 521.5v-2.6M213.54 0.5v2.6M231.38 521.5v-2.6M231.38 0.5v2.6M249.22 521.5v-2.6M249.22 0.5v2.6M267.06 521.5v-2.6M267.06 0.5v2.6M284.90 521.5v-4.3M284.90 0.5v4.3M302.74 521.5v-2.6M302.74 0.5v2.6M320.58 521.5v-2.6M320.58 0.5v2.6M338.42 521.5v-2.6M338.42 0.5v2.6M356.26 521.5v-2.6M356.26 0.5v2.6M374.10 521.5v-4.3M374.10 0.5v4.3M391.94 521.5v-2.6M391.94 0.5v2.6M409.78 521.5v-2.6M409.78 0.5v2.6M427.62 521.5v-2.6M427.62 0.5v2.6M445.46 521.5v-2.6M445.46 0.5v2.6M463.30 521.5v-4.3M463.30 0.5v4.3M481.14 521.5v-2.6M481.14 0.5v2.6M498.98 521.5v-2.6M498.98 0.5v2.6M516.82 521.5v-2.6M516.82 0.5v2.6M534.66 521.5v-2.6M534.66 0.5v2.6M552.50 521.5v-4.3M552.50 0.5v4.3M570.34 521.5v-2.6M570.34 0.5v2.6M588.18 521.5v-2.6M588.18 0.5v2.6M606.02 521.5v-2.6M606.02 0.5v2.6M623.86 521.5v-2.6M623.86 0.5v2.6M641.70 521.5v-4.3M641.70 0.5v4.3M659.54 521.5v-2.6M659.54 0.5v2.6M677.38 521.5v-2.6M677.38 0.5v2.6M695.22 521.5v-2.6M695.22 0.5v2.6M713.06 521.5v-2.6M713.06 0.5v2.6M730.90 521.5v-4.3M730.90 0.5v4.3M93.8 3.05h2.6M744.1 3.05h-2.6M93.8 26.50h4.3M744.1 26.50h-4.3M93.8 49.95h2.6M744.1 49.95h-2.6M93.8 73.40h2.6M744.1 73.40h-2.6M93.8 96.85h2.6M744.1 96.85h-2.6M93.8 120.30h2.6M744.1 120.30h-2.6M93.8 143.75h4.3M744.1 143.75h-4.3M93.8 167.20h2.6M744.1 167.20h-2.6M93.8 190.65h2.6M744.1 190.65h-2.6M93.8 214.10h2.6M744.1 214.10h-2.6M93.8 237.55h2.6M744.1 237.55h-2.6M93.8 261.00h4.3M744.1 261.00h-4.3M93.8 284.45h2.6M744.1 284.45h-2.6M93.8 307.90h2.6M744.1 307.90h-2.6M93.8 331.35h2.6M744.1 331.35h-2.6M93.8 354.80h2.6M744.1 354.80h-2.6M93.8 378.25h4.3M744.1 378.25h-4.3M93.8 401.70h2.6M744.1 401.70h-2.6M93.8 425.15h2.6M744.1 425.15h-2.6M93.8 448.60h2.6M744.1 448.60h-2.6M93.8 472.05h2.6M744.1 472.05h-2.6M93.8 495.50h4.3M744.1 495.50h-4.3M93.8 518.95h2.6M744.1 518.95h-2.6" stroke-width="1.0"/>
</g>
<g fill="#000000">
<text transform="translate(88.9 36.4) scale(0.938 1)" font-size="28.4" text-anchor="end">0.98</text>
<text transform="translate(88.9 153.7) scale(0.938 1)" font-size="28.4" text-anchor="end">0.97</text>
<text transform="translate(88.9 270.9) scale(0.938 1)" font-size="28.4" text-anchor="end">0.96</text>
<text transform="translate(88.9 388.2) scale(0.938 1)" font-size="28.4" text-anchor="end">0.95</text>
<text transform="translate(88.9 505.4) scale(0.938 1)" font-size="28.4" text-anchor="end">0.94</text>
<text transform="translate(106.2 550.7) scale(0.938 1)" font-size="28.4" text-anchor="middle">3</text>
<text transform="translate(195.4 550.7) scale(0.938 1)" font-size="28.4" text-anchor="middle">4</text>
<text transform="translate(284.6 550.7) scale(0.938 1)" font-size="28.4" text-anchor="middle">5</text>
<text transform="translate(373.8 550.7) scale(0.938 1)" font-size="28.4" text-anchor="middle">6</text>
<text transform="translate(463.0 550.7) scale(0.938 1)" font-size="28.4" text-anchor="middle">7</text>
<text transform="translate(552.2 550.7) scale(0.938 1)" font-size="28.4" text-anchor="middle">8</text>
<text transform="translate(641.4 550.7) scale(0.938 1)" font-size="28.4" text-anchor="middle">9</text>
<text transform="translate(730.6 550.7) scale(0.938 1)" font-size="28.4" text-anchor="middle">10</text>
<text transform="translate(338.8 587.7) scale(0.955 1)" font-size="28.3">log(<tspan font-style="italic">T</tspan><tspan font-size="20.1" dy="3.7">RH</tspan><tspan dy="-3.7">/GeV)</tspan></text>
<text transform="translate(25.4 274.3) rotate(-90)" font-size="28.3"><tspan font-style="italic">n</tspan><tspan font-size="20.1" dy="4.8" dx="-0.6" font-style="italic">s</tspan></text>
<text x="118.0" y="34.6" font-size="21.6" fill="#00ff00"><tspan font-style="italic">δ</tspan>=10<tspan font-size="15.3" dy="-9.6">−6</tspan></text>
<text x="120.9" y="79.0" font-size="21.6" fill="#ff0000"><tspan font-style="italic">δ</tspan>=10<tspan font-size="15.3" dy="-9.6">−5.042</tspan></text>
<text x="120.9" y="125.6" font-size="21.6" fill="#000000"><tspan font-style="italic">δ</tspan>=10<tspan font-size="15.3" dy="-9.6">−4.509</tspan></text>
<text x="120.9" y="168.7" font-size="21.6" fill="#0000ff"><tspan font-style="italic">δ</tspan>=10<tspan font-size="15.3" dy="-9.6">−3.998</tspan></text>
<text x="109.5" y="384.6" font-size="22.0" fill="#888888">Solid lines (<tspan font-style="italic">γ</tspan>=0.1)</text>
<text x="112.0" y="431.4" font-size="22.0" fill="#888888">Dashed lines (<tspan font-style="italic">γ</tspan>=0.5)</text>
<text x="109.5" y="478.5" font-size="22.0" fill="#888888">Dotted lines (<tspan font-style="italic">γ</tspan>=1)</text>
</g>
</svg>
</body></html>
